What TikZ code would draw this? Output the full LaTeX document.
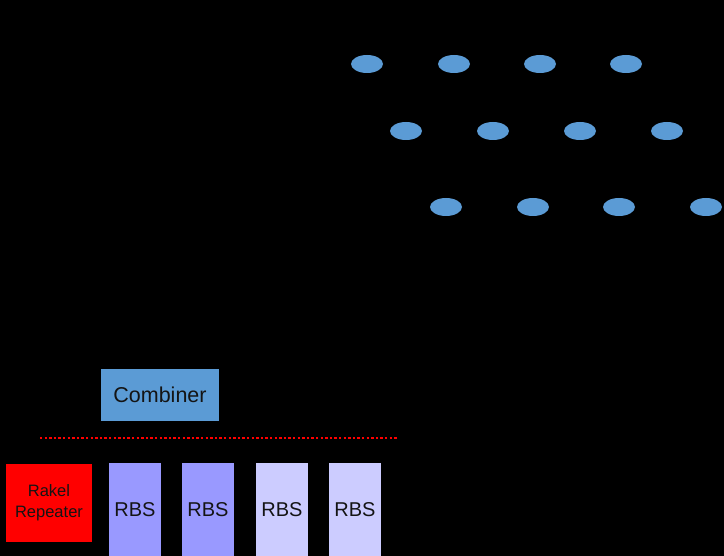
\documentclass[tikz,border=0pt]{standalone}
\usepackage{fontspec}
\setmainfont{Liberation Sans}
\usetikzlibrary{shapes.geometric}
\definecolor{cellblue}{HTML}{5B9BD5}
\definecolor{rbsdark}{HTML}{9999FF}
\definecolor{rbslight}{HTML}{CCCCFF}
\definecolor{txt}{HTML}{141414}

\begin{document}
\begin{tikzpicture}[x=1pt,y=-1pt,
  cell/.style={ellipse, fill=cellblue, minimum width=32pt, minimum height=18pt, inner sep=0pt},
  box/.style={inner sep=0pt, text=txt, font=\fontsize{20}{22}\selectfont, align=center}]
\fill[black] (0,0) rectangle (724,556);
\useasboundingbox (0,0) rectangle (724,556);

\node[cell] (c11) at (367,64) {};
\node[cell] (c12) at (454,64) {};
\node[cell] (c13) at (540,64) {};
\node[cell] (c14) at (626,64) {};

\node[cell] (c21) at (406,131) {};
\node[cell] (c22) at (493,131) {};
\node[cell] (c23) at (580,131) {};
\node[cell] (c24) at (667,131) {};

\node[cell] (c31) at (446,207) {};
\node[cell] (c32) at (533,207) {};
\node[cell] (c33) at (619,207) {};
\node[cell] (c34) at (706,207) {};

\node[box, fill=cellblue, minimum width=118pt, minimum height=52pt, font=\fontsize{21.5}{24}\selectfont] (comb) at (160,395) {Combiner};

\draw[red, line width=2.6pt, dash pattern=on 2.4pt off 2.2pt] (40,438) -- (398,438);

\node[box, fill=red, minimum width=86pt, minimum height=78pt, font=\fontsize{16.5}{21}\selectfont] (rakel) at (49,503) {Rakel\\Repeater};
\node[box, fill=rbsdark, minimum width=52pt, minimum height=94pt] (rbs1) at (135,510) {RBS};
\node[box, fill=rbsdark, minimum width=52pt, minimum height=94pt] (rbs2) at (208,510) {RBS};
\node[box, fill=rbslight, minimum width=52pt, minimum height=94pt] (rbs3) at (282,510) {RBS};
\node[box, fill=rbslight, minimum width=52pt, minimum height=94pt] (rbs4) at (355,510) {RBS};
\end{tikzpicture}
\end{document}
